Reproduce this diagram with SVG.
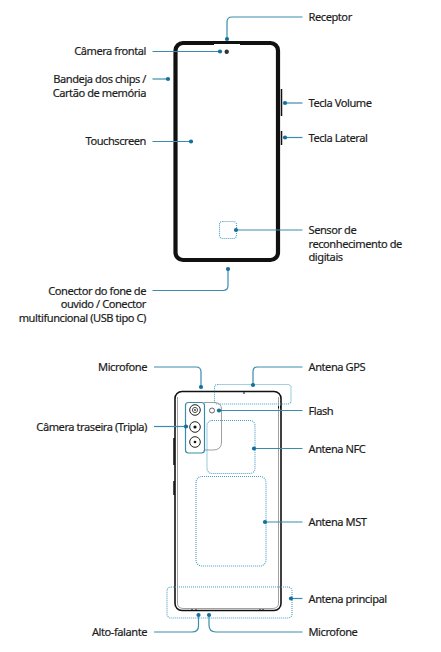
<svg xmlns="http://www.w3.org/2000/svg" width="441" height="652" viewBox="0 0 441 652">
<style>
text{font-family:"Noto Sans","Open Sans","DejaVu Sans",sans-serif;font-size:11.1px;fill:#1c1c1c;stroke:#1c1c1c;stroke-width:.18;letter-spacing:-.45px}
.e{text-anchor:end}
.c{fill:none;stroke:#3a8cad;stroke-width:1.2}
.d{fill:#146f9c}
.a{fill:none;stroke:#4a9fc0;stroke-width:1.1;stroke-dasharray:1 1}
.b{fill:none;stroke:#111}
.g{fill:none;stroke:#777;stroke-width:.7}
</style>
<rect width="441" height="652" fill="#fff"/>
<g id="front-phone">
<rect class="b" stroke-width="4.2" x="175.500" y="43" width="102.500" height="217" rx="7.500"/>
<path d="M214 44.500H240" stroke="#fff" stroke-width="1"/>
<circle cx="226.700" cy="51.700" r="2.200" fill="#333"/>
<path class="b" stroke-width="1.500" d="M281.500 89V116M281.500 131V145"/>
</g>
<g id="fingerprint"><rect class="a" x="219.500" y="221.500" width="17" height="17" rx="3"/></g>
<g id="back-phone">
<rect class="b" stroke-width="1.600" x="175" y="391.500" width="106" height="219" rx="7"/>
<path class="g" d="M177.500 397V604Q178 608 183 608.500H273Q278 608 278.500 604V397"/>
<path class="g" d="M204 402.500H215Q221.500 403 221.500 409V442Q221.500 450 213 450H204"/>
<path class="b" stroke-width="1.500" d="M174 438V465M174 481V495"/>
<path class="b" stroke-width="1" d="M244 392V394M278.500 406V408.500M280.500 406V408.500M192 609V611M196 609V611M260 609V611M263 609V611"/>
</g>
<g id="camera-module">
<rect x="185.500" y="402.500" width="19" height="50.500" rx="3" fill="#fff" stroke="#3a8cad" stroke-width="1.200"/>
<circle cx="195" cy="410" r="5.300" fill="none" stroke="#222"/><circle cx="195" cy="410" r="2.600" fill="none" stroke="#555"/><circle cx="195" cy="410" r=".9" fill="#333"/>
<circle cx="195" cy="427" r="5.300" fill="none" stroke="#222"/><circle cx="195" cy="427" r="1.600" fill="#111"/>
<circle cx="195" cy="442" r="5.300" fill="none" stroke="#222"/><circle cx="195" cy="442" r="1.300" fill="#111"/>
</g>
<g id="flash"><circle cx="212" cy="410.500" r="2.500" fill="none" stroke="#444" stroke-width=".8"/></g>
<g id="antennas">
<rect class="a" x="214.500" y="384.500" width="76.500" height="19.500" rx="3"/>
<rect class="a" x="207" y="420.500" width="48" height="53" rx="5"/>
<rect class="a" x="196" y="476.500" width="70" height="89.500" rx="6"/>
<rect class="a" x="167" y="587" width="125" height="31" rx="4"/>
</g>
<g id="connectors">
<path class="c" d="M302.500 17H232Q227 17 227 22V39"/>
<path class="c" d="M152.500 51.500H220"/>
<path class="c" d="M152.500 79H168"/>
<path class="c" d="M152.500 141.500H191"/>
<path class="c" d="M302.500 103H285"/>
<path class="c" d="M302.500 137.500H285"/>
<path class="c" d="M302.500 230H236"/>
<path class="c" d="M152.500 290.500H223Q228 290.500 228 285.500V269"/>
<path class="c" d="M154 367H196Q201 367 201 372V387"/>
<path class="c" d="M302.500 367H257Q253 367 253 372V385"/>
<path class="c" d="M154 426.500H186"/>
<path class="c" d="M302.500 410.500H219"/>
<path class="c" d="M302.500 448.500H254"/>
<path class="c" d="M302.500 522H265"/>
<path class="c" d="M302.500 598.500H291"/>
<path class="c" d="M154 632H192Q198.500 632 198.500 626V615"/>
<path class="c" d="M302.500 632H216Q209 632 209 625V615"/>
<g class="d">
<circle cx="227" cy="39" r="2.100"/><circle cx="220" cy="51.500" r="2.100"/><circle cx="168" cy="79" r="2.100"/><circle cx="191" cy="141.500" r="2.100"/><circle cx="285" cy="103" r="2.100"/><circle cx="285" cy="137.500" r="2.100"/><circle cx="236" cy="230" r="2.100"/><circle cx="228" cy="269" r="2.100"/>
<circle cx="201" cy="387" r="2.100"/><circle cx="253" cy="385" r="2.100"/><circle cx="186" cy="426.500" r="2.100"/><circle cx="219" cy="410.500" r="2.100"/><circle cx="254" cy="448.500" r="2.100"/><circle cx="265" cy="522" r="2.100"/><circle cx="291" cy="598.500" r="2.100"/><circle cx="198.500" cy="615" r="2.100"/><circle cx="209" cy="615" r="2.100"/>
</g>
</g>
<g id="labels">
<text x="308.500" y="21">Receptor</text>
<text class="e" x="146" y="55">Câmera frontal</text>
<text class="e" x="146" y="83">Bandeja dos chips /</text>
<text class="e" x="146" y="96.500">Cartão de memória</text>
<text class="e" x="146" y="145">Touchscreen</text>
<text x="308.500" y="107">Tecla Volume</text>
<text x="308.500" y="142">Tecla Lateral</text>
<text x="308.500" y="234">Sensor de</text>
<text x="308.500" y="247.500">reconhecimento de</text>
<text x="308.500" y="261">digitais</text>
<text class="e" x="146" y="294.500">Conector do fone de</text>
<text class="e" x="146" y="308">ouvido / Conector</text>
<text class="e" x="146" y="322">multifuncional (USB tipo C)</text>
<text class="e" x="147" y="371">Microfone</text>
<text x="308.500" y="371">Antena GPS</text>
<text class="e" x="147" y="430.500">Câmera traseira (Tripla)</text>
<text x="308.500" y="415">Flash</text>
<text x="308.500" y="452.500">Antena NFC</text>
<text x="308.500" y="526">Antena MST</text>
<text x="308.500" y="602.500">Antena principal</text>
<text class="e" x="147" y="636">Alto-falante</text>
<text x="308.500" y="636">Microfone</text>
</g>
</svg>
